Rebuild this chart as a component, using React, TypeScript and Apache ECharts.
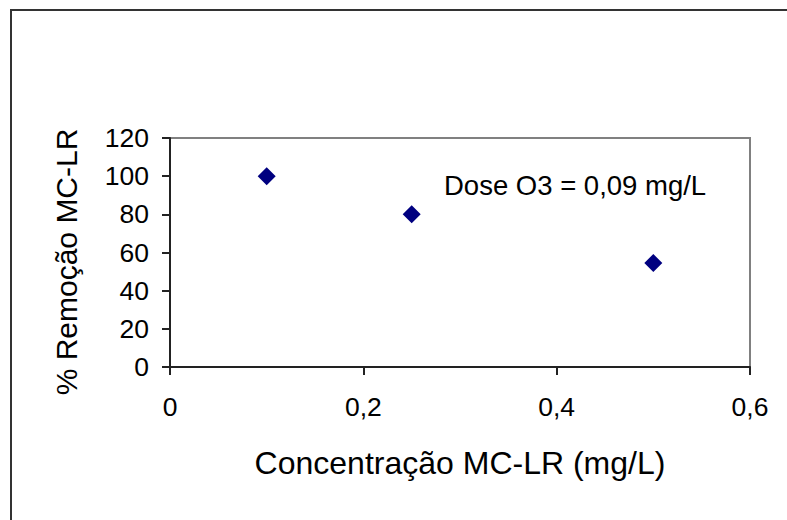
import React, { useEffect, useRef } from "react";
import * as echarts from "echarts";

const concentrations = [0.1, 0.25, 0.5];
const removal = [100, 80, 54.5];
const xTicks = [0, 0.2, 0.4, 0.6];
const yTicks = [0, 20, 40, 60, 80, 100, 120];
const xTitle = "Concentração MC-LR (mg/L)";
const yTitle = "% Remoção MC-LR";
const annotation = "Dose O3 = 0,09 mg/L";

const FONT = "'Liberation Sans', Arial, sans-serif";

export default function App() {
  const ref = useRef<HTMLDivElement>(null);
  useEffect(() => {
    if (!ref.current) return;
    const chart = echarts.init(ref.current, undefined, { renderer: "svg" });
    const points = concentrations.map((c, i) => [c, removal[i]]);
    chart.setOption({
      animation: false,
      backgroundColor: "#ffffff",
      textStyle: { fontFamily: FONT },
      grid: { left: 170, right: 37, top: 138, bottom: 153, show: true, borderColor: "#808080", borderWidth: 2, backgroundColor: "transparent" },
      xAxis: {
        type: "value",
        min: xTicks[0],
        max: xTicks[xTicks.length - 1],
        interval: 0.2,
        name: xTitle,
        nameLocation: "middle",
        nameGap: 80,
        nameTextStyle: { fontSize: 32, color: "#000", fontFamily: FONT },
        axisLine: { show: true, lineStyle: { color: "#222", width: 2 } },
        axisTick: { show: true, inside: false, length: 8, lineStyle: { color: "#222", width: 2 } },
        axisLabel: {
          fontSize: 26.5,
          color: "#000",
          margin: 26,
          fontFamily: FONT,
          formatter: (v: number) => String(Math.round(v * 10) / 10).replace(".", ","),
        },
        splitLine: { show: false },
      },
      yAxis: {
        type: "value",
        min: yTicks[0],
        max: yTicks[yTicks.length - 1],
        interval: 20,
        axisLine: { show: true, lineStyle: { color: "#222", width: 2 } },
        axisTick: { show: true, inside: false, length: 8, lineStyle: { color: "#222", width: 2 } },
        axisLabel: { fontSize: 26.5, color: "#000", margin: 21, fontFamily: FONT },
        splitLine: { show: false },
      },
      series: [
        {
          type: "scatter",
          data: points,
          symbol: "diamond",
          symbolSize: 18,
          itemStyle: { color: "#000080", opacity: 1 },
        },
      ],
      graphic: [
        {
          type: "rect",
          shape: { x: 11, y: 10, width: 1000, height: 1000 },
          style: { fill: "none", stroke: "#333", lineWidth: 2 },
          silent: true,
        },
        {
          type: "text",
          x: 444,
          y: 185,
          style: { text: annotation, fontSize: 27.5, fill: "#000", fontFamily: FONT, verticalAlign: "middle", align: "left" },
        },
        {
          type: "text",
          x: 66,
          y: 262,
          rotation: Math.PI / 2,
          style: { text: yTitle, fontSize: 30, fill: "#000", fontFamily: FONT, verticalAlign: "middle", align: "center" },
        },
      ],
    });
    return () => chart.dispose();
  }, []);
  return <div ref={ref} style={{ position: "fixed", left: 0, top: 0, width: 787, height: 520 }} />;
}
